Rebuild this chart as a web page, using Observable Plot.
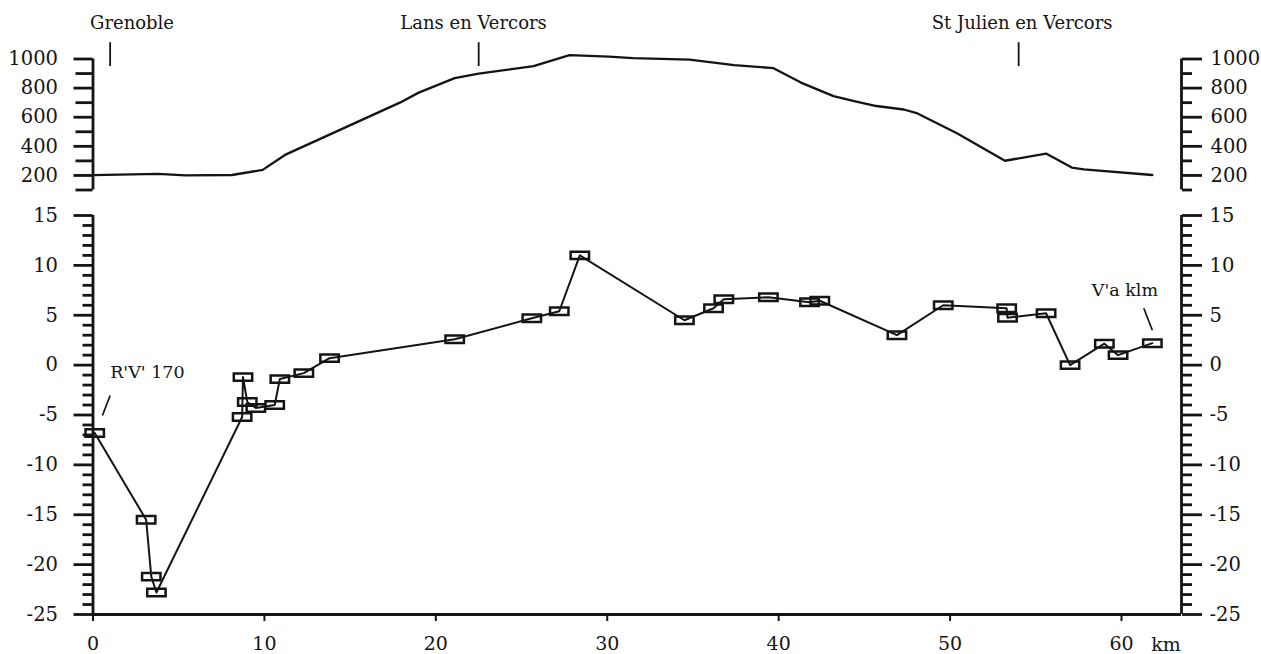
<!DOCTYPE html>
<html>
<head>
<meta charset="utf-8">
<script src="https://cdn.jsdelivr.net/npm/d3@7"></script>
<script src="https://cdn.jsdelivr.net/npm/@observablehq/plot@0.6"></script>
<style>
html, body { margin: 0; padding: 0; background: #fff; overflow: hidden; }
#chart svg { display: block; }
</style>
</head>
<body>
<div id="chart"></div>
<script>
// ---- Elevation profile (top panel) ----
const profileKm   = [0.0, 3.8, 5.4, 8.1, 9.9, 11.2, 17.9, 19.0, 21.1, 22.5, 25.7, 27.8, 30.1, 31.5, 34.8, 37.4, 39.7, 41.3, 43.2, 44.4, 45.7, 47.3, 48.1, 50.4, 53.2, 55.6, 57.1, 57.8, 61.8];
const profileElev = [202, 211, 201, 203, 238, 341, 700, 769, 869, 900, 951, 1026, 1016, 1006, 996, 958, 937, 838, 745, 711, 677, 653, 626, 490, 301, 350, 254, 242, 203];

// ---- Measured values (bottom panel) ----
const sampleKm    = [0.1, 3.1, 3.4, 3.7, 8.7, 8.75, 9.0, 9.5, 10.6, 10.9, 12.3, 13.8, 21.1, 25.6, 27.2, 28.4, 34.5, 36.2, 36.8, 39.4, 41.8, 42.4, 46.9, 49.6, 53.3, 53.35, 55.6, 57.0, 59.0, 59.8, 61.8];
const sampleValue = [-6.8, -15.5, -21.2, -22.8, -5.2, -1.2, -3.7, -4.3, -4.0, -1.4, -0.8, 0.7, 2.6, 4.7, 5.4, 11.0, 4.5, 5.7, 6.6, 6.8, 6.3, 6.45, 3.0, 6.0, 5.7, 4.75, 5.2, 0.0, 2.15, 1.0, 2.2];

// ---- Places ----
const placeNames   = ["Grenoble", "Lans en Vercors", "St Julien en Vercors"];
const placeKm      = [1.0, 22.5, 54.0];
const placeLabelKm = [0.0, 22.2, 54.2];
const markerElev   = [948, 1112];

// ---- Axes ----
const kmDomain    = [0, 63.5];
const kmTicks     = [0, 10, 20, 30, 40, 50, 60];
const elevDomain  = [100, 1000];
const elevTicks   = [200, 400, 600, 800, 1000];
const elevMinor   = [100, 300, 500, 700, 900];
const valueDomain = [-25, 15];
const valueTicks  = [-25, -20, -15, -10, -5, 0, 5, 10, 15];
const valueMinor  = d3.range(-25, 16).filter(v => v % 5 !== 0);
const unitLabel   = "km";
const unitKm      = 62.6;

// ---- Annotations ----
const noteTexts  = ["R'V' 170", "V'a klm"];
const noteKm     = [1.0, 60.2];
const noteValue  = [-0.75, 7.5];
const leaderKm1  = [1.0, 61.3];
const leaderV1   = [-3.05, 5.7];
const leaderKm2  = [0.55, 61.8];
const leaderV2   = [-5.05, 3.5];

const profile = profileKm.map((km, i) => ({km, elev: profileElev[i]}));
const samples = sampleKm.map((km, i) => ({km, value: sampleValue[i]}));
const places = placeNames.map((name, i) => ({name, km: placeKm[i], labelKm: placeLabelKm[i]}));
const notes = noteTexts.map((text, i) => ({text, km: noteKm[i], value: noteValue[i],
  x1: leaderKm1[i], y1: leaderV1[i], x2: leaderKm2[i], y2: leaderV2[i]}));

const ink = "#141414";
const fontStyle = {fontFamily: "'DejaVu Serif', serif", fontSize: "18px", color: ink, background: "white", overflow: "visible"};
const fmt = d => String(d);
const blank = () => "";
const SW = 2.8;
const TF = 19.5;

const rectSymbol = {
  draw(context) {
    context.moveTo(-9.2, -3.7);
    context.lineTo(9.2, -3.7);
    context.lineTo(9.2, 3.7);
    context.lineTo(-9.2, 3.7);
    context.closePath();
  }
};

const topPlot = Plot.plot({
  width: 1261, height: 200,
  marginLeft: 92.5, marginRight: 80, marginTop: 58.5, marginBottom: 10.5,
  style: fontStyle,
  x: {domain: kmDomain, axis: null},
  y: {domain: elevDomain},
  marks: [
    Plot.ruleX(kmDomain, {y1: elevDomain[0], y2: elevDomain[1], stroke: ink, strokeWidth: SW}),
    Plot.axisY({anchor: "left", ticks: elevTicks, tickSize: 19, tickPadding: 16, tickFormat: fmt, label: null, stroke: ink, strokeWidth: SW, fontSize: TF}),
    Plot.axisY({anchor: "left", ticks: elevMinor, tickSize: 17, tickFormat: blank, label: null, stroke: ink, strokeWidth: SW}),
    Plot.axisY({anchor: "right", ticks: elevTicks, tickSize: 20, tickPadding: 9, tickFormat: fmt, label: null, stroke: ink, strokeWidth: SW, fontSize: TF}),
    Plot.axisY({anchor: "right", ticks: elevMinor, tickSize: 10, tickFormat: blank, label: null, stroke: ink, strokeWidth: SW}),
    Plot.line(profile, {x: "km", y: "elev", stroke: ink, strokeWidth: 2.3}),
    Plot.ruleX(places, {x: "km", y1: markerElev[0], y2: markerElev[1], stroke: ink, strokeWidth: 1.8}),
    Plot.text(places.filter((d, i) => i === 0), {x: "labelKm", text: "name", frameAnchor: "top", dy: -43, dx: -3, textAnchor: "start", fontSize: 18, fill: ink}),
    Plot.text(places.filter((d, i) => i > 0), {x: "labelKm", text: "name", frameAnchor: "top", dy: -43, textAnchor: "middle", fontSize: 18, fill: ink})
  ]
});

const bottomPlot = Plot.plot({
  width: 1261, height: 454,
  marginLeft: 92.5, marginRight: 80, marginTop: 15, marginBottom: 40,
  style: fontStyle,
  x: {domain: kmDomain},
  y: {domain: valueDomain},
  marks: [
    Plot.ruleX(kmDomain, {y1: valueDomain[0], y2: valueDomain[1], stroke: ink, strokeWidth: SW}),
    Plot.ruleY([valueDomain[0]], {x1: kmDomain[0], x2: kmDomain[1], stroke: ink, strokeWidth: SW}),
    Plot.axisY({anchor: "left", ticks: valueTicks, tickSize: 19, tickPadding: 16, tickFormat: fmt, label: null, stroke: ink, strokeWidth: SW, fontSize: TF}),
    Plot.axisY({anchor: "left", ticks: valueMinor, tickSize: 10, tickFormat: blank, label: null, stroke: ink, strokeWidth: SW}),
    Plot.axisY({anchor: "right", ticks: valueTicks, tickSize: 20, tickPadding: 8, tickFormat: fmt, label: null, stroke: ink, strokeWidth: SW, fontSize: TF}),
    Plot.axisY({anchor: "right", ticks: valueMinor, tickSize: 10, tickFormat: blank, label: null, stroke: ink, strokeWidth: SW}),
    Plot.axisX({ticks: kmTicks, tickSize: 7, tickPadding: 15, tickFormat: fmt, label: null, stroke: ink, strokeWidth: 2, fontSize: 19}),
    Plot.text([unitLabel], {x: unitKm, y: valueDomain[0], dy: 30, text: d => d, fill: ink, fontSize: 19}),
    Plot.line(samples, {x: "km", y: "value", stroke: ink, strokeWidth: 2}),
    Plot.dot(samples, {x: "km", y: "value", symbol: rectSymbol, stroke: ink, strokeWidth: 2.5, fill: "none"}),
    Plot.link(notes, {x1: "x1", y1: "y1", x2: "x2", y2: "y2", stroke: ink, strokeWidth: 1.7}),
    Plot.text(notes.filter((d, i) => i === 0), {x: "km", y: "value", text: "text", textAnchor: "start", fontSize: 17.5, fill: ink}),
    Plot.text(notes.filter((d, i) => i > 0), {x: "km", y: "value", text: "text", textAnchor: "middle", fontSize: 17.5, fill: ink})
  ]
});

const root = document.getElementById("chart");
root.appendChild(topPlot);
root.appendChild(bottomPlot);
</script>
</body>
</html>
